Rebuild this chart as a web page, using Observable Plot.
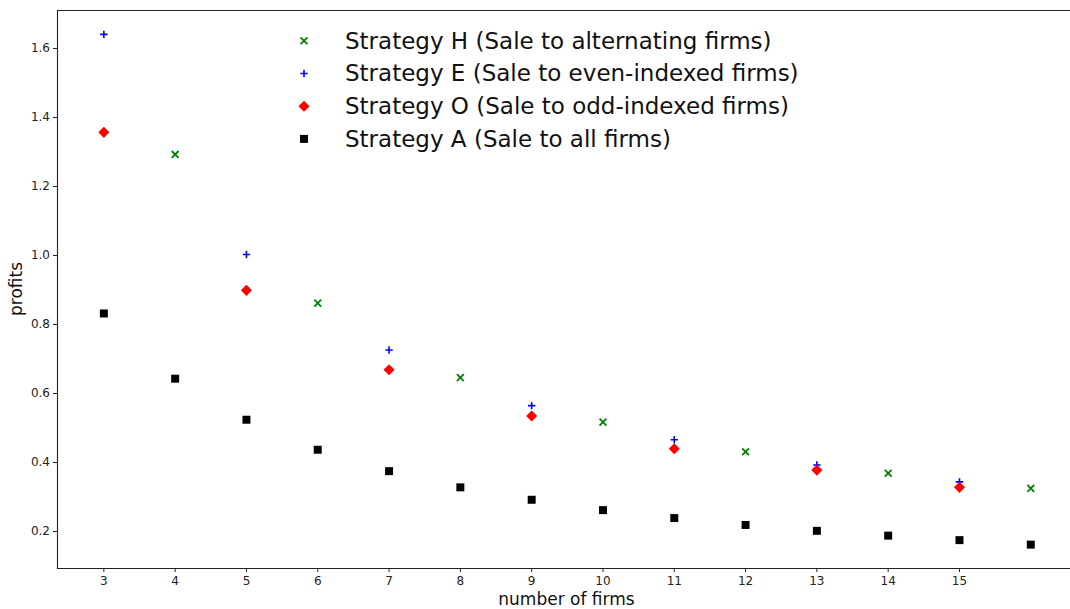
<!DOCTYPE html>
<html><head><meta charset="utf-8">
<script src="https://cdn.jsdelivr.net/npm/d3@7"></script>
<script src="https://cdn.jsdelivr.net/npm/@observablehq/plot@0.6"></script>
<style>
body{margin:0;background:#fff}
#chart{width:1070px;height:609px;overflow:hidden;position:relative}
svg{font-family:"DejaVu Sans",sans-serif}
</style>
</head><body><div id="chart"></div>
<script>
// Data
const firmsH = [4, 6, 8, 10, 12, 14, 16];
const profitsH = [1.293, 0.862, 0.646, 0.517, 0.431, 0.369, 0.325];
const firmsE = [3, 5, 7, 9, 11, 13, 15];
const profitsE = [1.641, 1.003, 0.726, 0.565, 0.466, 0.393, 0.344];
const firmsO = [3, 5, 7, 9, 11, 13, 15];
const profitsO = [1.357, 0.899, 0.669, 0.535, 0.440, 0.378, 0.328];
const firmsA = [3, 4, 5, 6, 7, 8, 9, 10, 11, 12, 13, 14, 15, 16];
const profitsA = [0.832, 0.643, 0.524, 0.437, 0.375, 0.328, 0.292, 0.262, 0.239, 0.219, 0.202, 0.188, 0.175, 0.162];
const xTicks = [3, 4, 5, 6, 7, 8, 9, 10, 11, 12, 13, 14, 15];
const yTicks = [0.2, 0.4, 0.6, 0.8, 1.0, 1.2, 1.4, 1.6];
const seriesNames = [
  "Strategy H (Sale to alternating firms)",
  "Strategy E (Sale to even-indexed firms)",
  "Strategy O (Sale to odd-indexed firms)",
  "Strategy A (Sale to all firms)"
];
const xLabel = "number of firms";
const yLabel = "profits";

const toRows = (xs, ys) => xs.map((x, i) => ({x, y: ys[i]}));
const dataH = toRows(firmsH, profitsH);
const dataE = toRows(firmsE, profitsE);
const dataO = toRows(firmsO, profitsO);
const dataA = toRows(firmsA, profitsA);

const styles = [
  {symbol: "times", stroke: "#008000", strokeWidth: 1.8, r: 3.2, fill: "none"},
  {symbol: "plus", stroke: "#0000ff", strokeWidth: 1.6, r: 2.5, fill: "none"},
  {symbol: "diamond2", fill: "#ff0000", r: 5.0, stroke: "none"},
  {symbol: "square", fill: "#000000", r: 4.5, stroke: "none"}
];

const W = 1070, H = 609;
const mL = 57, mT = 10, mB = 41, mR = 0;

const plot = Plot.plot({
  width: W, height: H,
  marginLeft: mL, marginRight: mR, marginTop: mT, marginBottom: mB,
  style: {fontFamily: "DejaVu Sans, sans-serif", background: "#fff"},
  x: {domain: [2.35, 16.557]},
  y: {domain: [0.0928, 1.7101]},
  marks: [
    Plot.axisX({ticks: xTicks, tickSize: 4, tickPadding: 4, fontSize: 12, label: null, stroke: "#222", color: "#222"}),
    Plot.axisY({ticks: yTicks, tickSize: 4, tickPadding: 3.5, fontSize: 12, label: null, tickFormat: d => d.toFixed(1), stroke: "#222", color: "#222"}),
    Plot.dot(dataH, {x: "x", y: "y", ...styles[0]}),
    Plot.dot(dataE, {x: "x", y: "y", ...styles[1]}),
    Plot.dot(dataO, {x: "x", y: "y", ...styles[2]}),
    Plot.dot(dataA, {x: "x", y: "y", ...styles[3]}),
    Plot.frame({anchor: "top", stroke: "#222", strokeWidth: 1.1}),
    Plot.frame({anchor: "left", stroke: "#222", strokeWidth: 1.1}),
    Plot.frame({anchor: "bottom", stroke: "#222", strokeWidth: 1.1})
  ]
});
document.getElementById("chart").appendChild(plot);

const svg = d3.select(plot);
// axis labels
svg.append("text")
  .attr("x", 566.5).attr("y", 605)
  .attr("text-anchor", "middle")
  .attr("font-size", 17).attr("fill", "#111")
  .text(xLabel);
svg.append("text")
  .attr("transform", "translate(22,289) rotate(-90)")
  .attr("text-anchor", "middle")
  .attr("font-size", 17).attr("fill", "#111")
  .text(yLabel);

// legend
const symMap = {times: d3.symbolTimes, plus: d3.symbolPlus, diamond2: d3.symbolDiamond2, square: d3.symbolSquare};
const rowY = [40.8, 73.5, 106.2, 138.9];
const leg = svg.append("g").attr("text-anchor", "start");
seriesNames.forEach((name, i) => {
  const s = styles[i];
  leg.append("path")
    .attr("transform", `translate(304,${rowY[i]})`)
    .attr("d", d3.symbol(symMap[s.symbol], Math.PI * s.r * s.r)())
    .attr("fill", s.fill).attr("stroke", s.stroke)
    .attr("stroke-width", s.strokeWidth || 0);
  leg.append("text")
    .attr("x", 345).attr("y", rowY[i] + 7.8)
    .attr("text-anchor", "start")
    .attr("font-size", 23).attr("fill", "#111")
    .text(name);
});
</script>
</body></html>
